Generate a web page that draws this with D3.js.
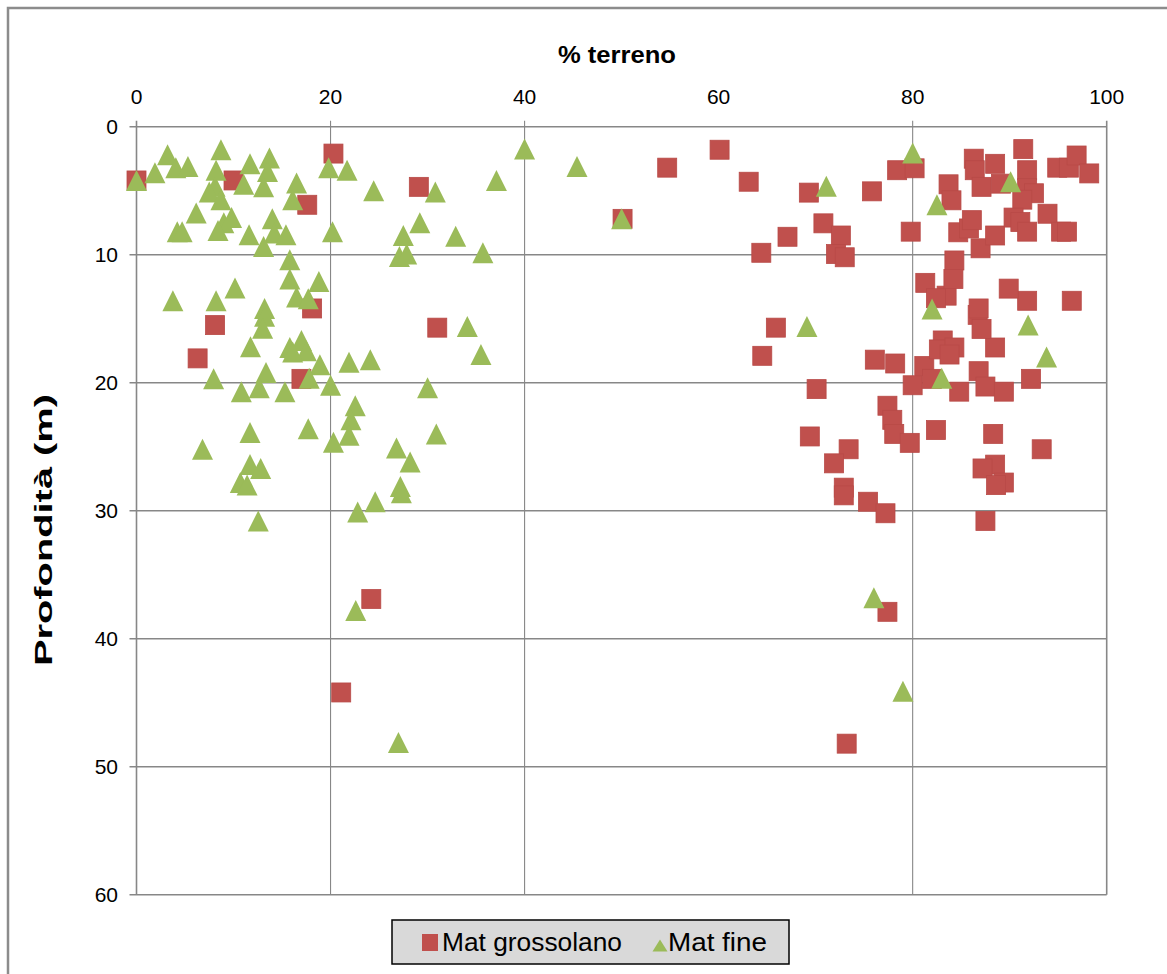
<!DOCTYPE html>
<html>
<head>
<meta charset="utf-8">
<script src="https://cdn.jsdelivr.net/npm/d3@7/dist/d3.min.js"></script>
<style>
  html, body { margin: 0; padding: 0; background: #fff; }
  svg { display: block; font-family: "Liberation Sans", Arial, sans-serif; }
</style>
</head>
<body>
<svg id="chart" width="1167" height="974"></svg>
<script>
// Coarse material: percentage of soil vs depth (m)
const grossolanoPct = [0, 20.3, 10.0, 17.6, 18.1, 8.1, 6.3, 17.0, 21.1, 24.2, 29.1, 31.0, 50.1, 54.7, 60.1, 63.1,
  69.3, 75.8, 78.4, 80.2, 70.8, 72.6, 67.1, 64.4, 72.1, 73.0, 65.9, 64.5, 70.1, 69.4, 73.4, 71.9, 72.9, 72.9,
  75.4, 77.2, 76.1, 78.2, 77.4, 77.9, 78.1, 79.7, 82.4, 88.3, 93.3, 88.5, 87.2, 89.4, 88.6, 87.5, 81.2, 82.0,
  80.0, 83.1, 82.7, 84.3, 83.8, 88.5, 86.8, 87.5, 84.8, 89.4, 92.2, 86.7, 87.1, 86.8, 91.8, 96.4, 81.3, 83.5,
  82.4, 84.3, 84.2, 89.9, 79.8, 83.7, 84.0, 84.7, 85.8, 86.1, 87.0, 88.5, 86.3, 86.4, 87.1, 88.5, 89.1, 91.4,
  91.8, 91.8, 92.5, 91.3, 94.9, 96.1, 96.9, 98.2, 93.9, 90.4, 91.1, 91.8, 95.3, 95.9, 77.4, 73.2];
const grossolanoDepth = [4.2, 2.1, 4.2, 6.1, 14.2, 15.5, 18.1, 19.7, 44.2, 36.9, 4.7, 15.7, 7.2, 3.2, 1.8, 4.3,
  5.15, 5.05, 3.4, 3.25, 7.55, 8.5, 8.6, 9.85, 9.95, 10.2, 15.7, 17.9, 20.5, 24.2, 25.2, 26.3, 28.2, 28.8,
  29.3, 30.2, 18.2, 18.5, 21.8, 22.9, 24.0, 24.7, 23.7, 24.0, 25.2, 26.4, 26.7, 27.8, 28.0, 30.8, 18.7, 19.7,
  20.2, 16.7, 17.4, 17.25, 17.8, 17.25, 19.1, 20.3, 20.7, 20.7, 19.7, 14.7, 15.8, 14.2, 13.6, 13.6, 12.2, 13.2,
  13.4, 10.45, 11.9, 12.65, 8.2, 4.5, 5.75, 8.25, 7.95, 7.3, 9.5, 8.5, 2.5, 3.4, 4.7, 2.9, 4.45, 1.75,
  3.4, 4.8, 5.2, 5.7, 3.2, 3.2, 2.25, 3.65, 6.8, 7.1, 7.45, 8.2, 8.2, 8.2, 37.9, 48.2];

// Fine material: percentage of soil vs depth (m)
const finePct = [0, 1.9, 3.2, 4.05, 5.3, 8.7, 8.2, 8.1, 7.5, 8.7, 6.15, 4.2, 4.7, 9.0, 9.8, 8.4, 11.05, 11.7,
  13.7, 13.5, 13.1, 16.5, 16.1, 14.0, 14.2, 15.4, 11.6, 13.1, 15.8, 15.8, 18.8, 16.5, 17.7, 3.75, 8.2, 10.15,
  13.2, 13.2, 13.0, 20.2, 19.8, 21.7, 24.45, 30.8, 37.1, 40.0, 45.4, 50.0, 27.5, 29.2, 32.9, 35.7, 27.1, 27.85,
  11.75, 15.8, 17.0, 17.5, 16.1, 21.9, 24.1, 18.9, 13.35, 17.8, 7.95, 10.8, 12.65, 15.3, 20.0, 22.55, 22.1,
  21.9, 20.3, 17.7, 11.7, 6.8, 11.7, 12.8, 10.7, 11.4, 12.55, 22.8, 24.6, 34.1, 35.5, 30.0, 30.9, 26.8, 28.2,
  27.2, 27.3, 22.6, 27.0, 71.1, 69.1, 82.5, 80.0, 90.1, 82.0, 91.9, 93.8, 83.0, 76.0, 79.0];
const fineDepth = [4.2, 3.6, 2.2, 3.2, 3.1, 1.8, 3.4, 4.65, 5.1, 5.7, 6.75, 8.2, 8.2, 7.5, 7.1, 8.1, 4.5, 2.9,
  2.45, 3.5, 4.7, 4.4, 5.7, 7.2, 8.3, 8.45, 8.45, 9.35, 10.4, 11.9, 12.1, 13.3, 13.45, 13.6, 13.6, 12.6,
  14.2, 14.8, 15.75, 8.2, 3.2, 3.4, 5.0, 5.1, 4.2, 1.75, 3.1, 7.2, 8.5, 7.5, 8.55, 9.85, 10.15, 9.95,
  17.2, 17.25, 16.7, 17.5, 17.6, 18.4, 18.2, 18.6, 19.2, 19.65, 19.7, 20.7, 20.4, 20.7, 20.2, 21.8, 22.9,
  24.1, 24.65, 23.6, 23.9, 25.2, 26.4, 26.7, 27.8, 28.0, 30.8, 30.1, 29.3, 15.6, 17.8, 20.4, 24.0, 25.1, 26.2,
  28.1, 28.6, 37.8, 48.1, 4.65, 15.6, 6.1, 2.05, 4.3, 14.25, 15.5, 18.0, 19.65, 36.8, 44.1];

const xTicks = [0, 20, 40, 60, 80, 100];
const xGrid = [0, 20, 40, 80, 100];
const yTicks = [0, 10, 20, 30, 40, 50, 60];
const seriesNames = ["Mat grossolano", "Mat fine"];

const RED = "#C0504D", GREEN = "#9BBB59", GRID = "#878787";

const svg = d3.select("#chart");

// outer chart frame
svg.append("rect")
  .attr("x", 8).attr("y", 8).attr("width", 1175).attr("height", 990)
  .attr("fill", "#fff").attr("stroke", "#8c8c8c").attr("stroke-width", 2.5);

const x = d3.scaleLinear().domain([0, 100]).range([136.5, 1106.7]);
const y = d3.scaleLinear().domain([0, 60]).range([126.7, 894.7]);

// horizontal gridlines with left tick marks
svg.append("g").selectAll("line").data(yTicks).join("line")
  .attr("x1", x(0) - 7).attr("x2", x(100))
  .attr("y1", d => y(d)).attr("y2", d => y(d))
  .attr("stroke", GRID).attr("stroke-width", 1.6);

// vertical gridlines with top tick marks
svg.append("g").selectAll("line").data(xGrid).join("line")
  .attr("x1", d => x(d)).attr("x2", d => x(d))
  .attr("y1", y(0) - 6).attr("y2", y(60))
  .attr("stroke", GRID).attr("stroke-width", d => d === 0 || d === 100 ? 1.6 : 1.1);

// x tick labels (top)
svg.append("g").selectAll("text").data(xTicks).join("text")
  .attr("x", d => x(d)).attr("y", 104)
  .attr("text-anchor", "middle")
  .attr("font-size", 21).attr("fill", "#000")
  .text(d => d);

// y tick labels
svg.append("g").selectAll("text").data(yTicks).join("text")
  .attr("x", 118).attr("y", d => y(d) + 7.5)
  .attr("text-anchor", "end")
  .attr("font-size", 21).attr("fill", "#000")
  .text(d => d);

// axis titles
svg.append("text")
  .attr("x", 617).attr("y", 63)
  .attr("text-anchor", "middle")
  .attr("font-size", 23).attr("font-weight", "bold")
  .attr("textLength", 118).attr("lengthAdjust", "spacingAndGlyphs")
  .text("% terreno");

svg.append("text")
  .attr("transform", "translate(52,530) rotate(-90)")
  .attr("text-anchor", "middle")
  .attr("font-size", 23).attr("font-weight", "bold")
  .attr("textLength", 272).attr("lengthAdjust", "spacingAndGlyphs")
  .text("Profondità (m)");

// markers
const SQ = 19;
const grossolano = grossolanoPct.map((p, i) => ({ p, d: grossolanoDepth[i] }));
const fine = finePct.map((p, i) => ({ p, d: fineDepth[i] }));

svg.append("g").selectAll("rect").data(grossolano).join("rect")
  .attr("x", d => x(d.p) - SQ / 2).attr("y", d => y(d.d) - SQ / 2)
  .attr("width", SQ).attr("height", SQ)
  .attr("fill", RED).attr("stroke", "#b84a47").attr("stroke-width", 0.8);

const triPath = (cx, cy, w, h) =>
  `M${cx},${cy - h / 2}L${cx + w / 2},${cy + h / 2}L${cx - w / 2},${cy + h / 2}Z`;

svg.append("g").selectAll("path").data(fine).join("path")
  .attr("d", d => triPath(x(d.p), y(d.d), 21, 21))
  .attr("fill", GREEN);

// legend
const lg = svg.append("g");
lg.append("rect")
  .attr("x", 392).attr("y", 920).attr("width", 397).attr("height", 44)
  .attr("fill", "#d9d9d9").attr("stroke", "#000").attr("stroke-width", 1.5);
lg.append("rect")
  .attr("x", 422).attr("y", 934).attr("width", 16).attr("height", 17)
  .attr("fill", RED);
lg.append("text").attr("x", 442).attr("y", 951)
  .attr("font-size", 25).attr("textLength", 180).attr("lengthAdjust", "spacingAndGlyphs")
  .text(seriesNames[0]);
lg.append("path").attr("d", triPath(660, 945.5, 15, 12)).attr("fill", GREEN);
lg.append("text").attr("x", 668).attr("y", 951)
  .attr("font-size", 25).attr("textLength", 99).attr("lengthAdjust", "spacingAndGlyphs")
  .text(seriesNames[1]);
</script>
</body>
</html>
